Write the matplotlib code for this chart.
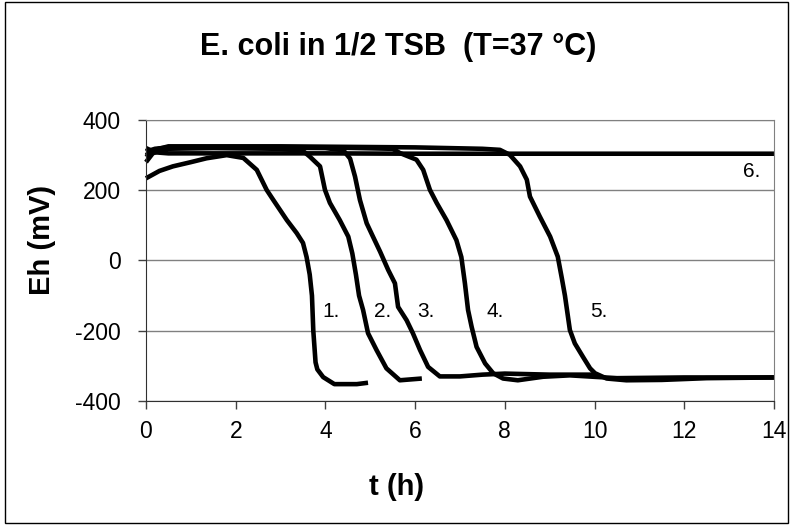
import matplotlib.pyplot as plt
import matplotlib.patches as mpatches

plt.rcParams['font.family'] = ['Liberation Sans', 'DejaVu Sans']
plt.rcParams['axes.unicode_minus'] = False

# Eh curves (mV) over time (h)
t1 = [0, 0.3, 0.6, 1.0, 1.35, 1.8, 2.17, 2.47, 2.69, 2.84, 3.14, 3.36, 3.50, 3.58, 3.65, 3.70,
      3.73, 3.78, 3.82, 3.95, 4.2, 4.7, 4.95]
eh1 = [234, 255, 268, 280, 291, 300, 292, 258, 201, 172, 115, 78, 50, 10, -40, -100,
       -200, -290, -310, -332, -352, -352, -348]

t2 = [0, 0.15, 0.4, 1.5, 3.0, 3.5, 3.65, 3.88, 3.99, 4.10, 4.32, 4.51, 4.60, 4.68, 4.75,
      4.84, 4.95, 5.14, 5.36, 5.66, 6.15]
eh2 = [280, 305, 318, 320, 318, 312, 296, 268, 201, 164, 115, 68, 20, -40, -100,
       -141, -207, -255, -307, -341, -336]

t3 = [0, 0.2, 0.5, 2, 4, 4.4, 4.55, 4.66, 4.77, 4.92, 5.06, 5.22, 5.40, 5.55, 5.62, 5.81,
      5.95, 6.11, 6.29, 6.55, 7, 7.5, 8, 9, 10]
eh3 = [300, 315, 322, 322, 320, 314, 290, 239, 172, 106, 68, 25, -27, -65, -132, -170,
       -207, -255, -303, -330, -330, -325, -322, -325, -325]

t4 = [0, 0.2, 0.5, 2, 4, 5.5, 5.66, 6.03, 6.18, 6.33, 6.48, 6.70, 6.92, 7.03, 7.11, 7.18,
      7.26, 7.37, 7.56, 7.74, 7.96, 8.29, 8.85, 9.45, 10.5, 12, 14]
eh4 = [310, 318, 322, 322, 322, 318, 306, 287, 258, 201, 164, 115, 58, 10, -65, -141,
       -189, -246, -293, -321, -336, -341, -331, -327, -335, -333, -333]

t5 = [0, 0.2, 0.5, 3, 6, 7.5, 7.89, 8.11, 8.34, 8.49, 8.56, 8.78, 9.01, 9.18, 9.27, 9.34,
      9.45, 9.56, 9.74, 9.90, 10.01, 10.27, 10.71, 11.5, 12.5, 14]
eh5 = [295, 315, 325, 325, 322, 318, 315, 301, 268, 230, 182, 125, 68, 11, -50, -100,
       -198, -236, -274, -307, -321, -336, -341, -340, -335, -333]

t6 = [0, 0.2, 0.5, 2, 4, 6, 8, 10, 12, 14]
eh6 = [320, 308, 305, 305, 305, 304, 304, 304, 304, 304]

curves = [(t1, eh1), (t2, eh2), (t3, eh3), (t4, eh4), (t5, eh5), (t6, eh6)]
labels = ['1.', '2.', '3.', '4.', '5.', '6.']
label_t = [4.12, 5.28, 6.24, 7.78, 10.1, 13.5]
label_eh = [-145, -145, -145, -145, -145, 253]

fig = plt.figure(figsize=(7.93, 5.27), dpi=100)
ax = fig.add_axes([0.1841, 0.2391, 0.7919, 0.5332])

for t, eh in curves:
    ax.plot(t, eh, color='black', lw=3.3, solid_joinstyle='round', solid_capstyle='butt',
            clip_on=False)

for lab, x, y in zip(labels, label_t, label_eh):
    ax.text(x, y, lab, fontsize=15, ha='center', va='center')

ax.set_xlim(0, 14)
ax.set_ylim(-400, 400)
ax.set_xticks(range(0, 15, 2))
ax.set_yticks(range(-400, 401, 200))
ax.grid(axis='y', color='#808080', lw=1)
ax.set_axisbelow(True)
ax.tick_params(direction='out', length=6, width=1, labelsize=16.5, color='#404040')
ax.tick_params(axis='y', pad=12)
ax.tick_params(axis='x', pad=8)
for side in ['top', 'right']:
    ax.spines[side].set_color('#808080')
for side in ['left', 'bottom']:
    ax.spines[side].set_color('#303030')

fig.text(0.5, 1 - 487 / 527, 't (h)', fontsize=21, fontweight='bold', ha='center', va='center')
fig.text(42 / 793, 1 - 240 / 527, 'Eh (mV)', fontsize=21, fontweight='bold', ha='center',
         va='center', rotation=90)
fig.text(0.502, 1 - 47 / 527, 'E. coli in 1/2 TSB  (T=37 °C)', fontsize=22, fontweight='bold',
         ha='center', va='center')

fig.patches.append(mpatches.Rectangle((0.006, 0.008), 0.988, 0.988, transform=fig.transFigure,
                                      fill=False, edgecolor='black', lw=1))

fig.savefig('out.png', dpi=100)
